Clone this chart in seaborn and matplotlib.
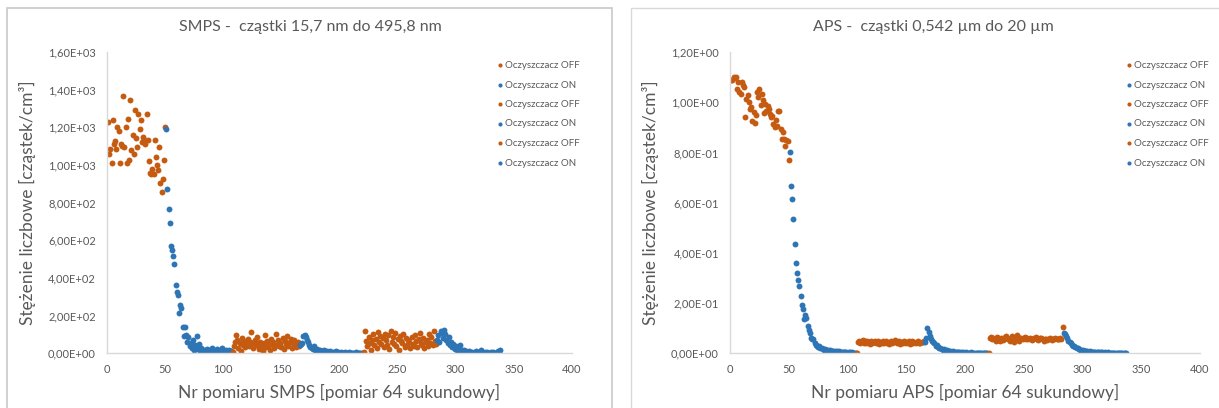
import matplotlib
matplotlib.use("Agg")
import matplotlib.pyplot as plt
from matplotlib.patches import Rectangle
from matplotlib.ticker import FuncFormatter, MultipleLocator
import pandas as pd
import seaborn as sns

# SMPS: number concentration per measurement (64 s each), six phases of the purifier
smps_off1 = [1229, 1057, 1087, 1008, 1241, 1110, 1126, 1087, 1202, 1179, 1008, 1110, 1100, 1365, 1096,
             1202, 1008, 1245, 1025, 1343, 1078, 1158, 1057, 1294, 1142, 1096, 1273, 1193, 1238, 1120,
             1149, 1131, 1114, 1273, 1131, 1022, 960, 951, 981, 951, 1131, 1043, 1000, 972, 1096,
             905, 857, 928, 1025, 1202]
smps_on1 = [1190, 870, 764, 693, 571, 548, 516, 472, 362, 325, 308, 212, 256, 239, 141, 92, 138, 95, 60,
            85, 40, 55, 30, 70, 20, 45, 90, 25, 50, 10, 30, 5, 15, 20, 8, 25, 10, 5, 15, 30, 10, 20, 5,
            12, 25, 8, 15, 3, 30, 10, 5, 20, 8, 2, 15, 5, 10]
smps_off2 = [5, 40, 60, 95, 70, 30, 55, 10, 80, 45, 65, 35, 50, 75, 40, 60, 115, 55, 30, 70, 45, 85, 50,
             25, 60, 40, 10, 55, 95, 35, 65, 45, 20, 75, 50, 60, 30, 100, 45, 70, 40, 55, 35, 80, 25, 65,
             50, 90, 40, 60, 75, 30, 55, 70, 45, 35, 60, 40]
smps_on2 = [45, 50, 55, 90, 95, 85, 70, 60, 45, 35, 30, 25, 40, 20, 15, 25, 10, 18, 8, 12, 5, 15, 3, 10,
            6, 2, 12, 4, 8, 1, 5, 10, 2, 6, 3, 8, 1, 4, 2, 6, 1, 3, 5, 2, 4, 1, 3, 2, 5, 1, 2, 3, 1, 2, 4]
smps_off3 = [5, 120, 65, 40, 85, 55, 20, 70, 100, 45, 75, 30, 115, 60, 90, 50, 80, 35, 105, 70, 45, 95,
             25, 120, 60, 85, 50, 110, 40, 75, 15, 90, 65, 55, 100, 35, 80, 45, 70, 60, 30, 85, 50, 40,
             95, 65, 35, 75, 110, 55, 45, 80, 30, 60, 70, 40, 100, 55, 85, 45, 120, 65, 50]
smps_on3 = [70, 95, 60, 120, 110, 80, 125, 100, 70, 55, 85, 45, 60, 35, 50, 25, 40, 15, 30, 10, 45, 20,
            8, 15, 5, 10, 3, 12, 6, 2, 8, 4, 1, 10, 5, 2, 7, 3, 15, 4, 1, 6, 2, 9, 3, 1, 5, 2, 8, 4, 1,
            3, 10, 6, 20]

# APS
aps_off1 = [1.09, 1.087, 1.10, 1.095, 1.10, 1.053, 1.082, 1.04, 1.033, 1.08, 1.07, 1.06, 0.94, 1.013,
            1.027, 1.00, 0.973, 0.98, 0.927, 0.96, 0.917, 0.95, 1.04, 1.02, 1.053, 0.987, 1.033, 1.007,
            0.957, 0.993, 0.967, 0.985, 0.973, 0.953, 0.94, 0.947, 0.913, 0.90, 0.93, 0.904, 0.967,
            0.967, 0.893, 0.853, 0.88, 0.853, 0.824, 0.85, 0.845, 0.77]
aps_on1 = [0.80, 0.667, 0.616, 0.533, 0.437, 0.36, 0.32, 0.29, 0.267, 0.227, 0.193, 0.176, 0.136, 0.153,
           0.14, 0.109, 0.093, 0.08, 0.06, 0.055, 0.058, 0.04, 0.033, 0.03, 0.025, 0.028, 0.02, 0.022,
           0.018, 0.015, 0.017, 0.012, 0.014, 0.01, 0.012, 0.009, 0.011, 0.008, 0.01, 0.007, 0.009,
           0.006, 0.008, 0.005, 0.007, 0.006, 0.004, 0.006, 0.005, 0.003, 0.005, 0.004, 0.003, 0.004,
           0.002, 0.003, 0.002]
aps_off2 = [0.0, 0.045, 0.05, 0.04, 0.048, 0.052, 0.043, 0.047, 0.04, 0.05, 0.045, 0.038, 0.048, 0.042,
            0.046, 0.05, 0.041, 0.044, 0.049, 0.038, 0.045, 0.042, 0.047, 0.04, 0.044, 0.048, 0.043,
            0.039, 0.046, 0.05, 0.042, 0.045, 0.052, 0.047, 0.04, 0.044, 0.048, 0.038, 0.045, 0.042,
            0.05, 0.046, 0.041, 0.044, 0.048, 0.039, 0.043, 0.047, 0.042, 0.045, 0.04, 0.046, 0.049,
            0.043, 0.041, 0.045, 0.044, 0.048]
aps_on2 = [0.045, 0.06, 0.10, 0.085, 0.07, 0.055, 0.05, 0.045, 0.04, 0.03, 0.035, 0.025, 0.02, 0.022,
           0.018, 0.015, 0.017, 0.012, 0.01, 0.012, 0.008, 0.01, 0.007, 0.006, 0.008, 0.005, 0.006,
           0.004, 0.005, 0.006, 0.003, 0.004, 0.005, 0.003, 0.002, 0.004, 0.003, 0.002, 0.003, 0.004,
           0.002, 0.001, 0.003, 0.002, 0.001, 0.002, 0.003, 0.001, 0.002, 0.001, 0.002, 0.001, 0.001,
           0.002]
aps_off3 = [0.0, 0.06, 0.065, 0.055, 0.062, 0.058, 0.05, 0.065, 0.06, 0.055, 0.048, 0.06, 0.052, 0.058,
            0.065, 0.07, 0.06, 0.055, 0.05, 0.062, 0.068, 0.058, 0.045, 0.06, 0.072, 0.065, 0.05, 0.058,
            0.062, 0.055, 0.06, 0.065, 0.058, 0.062, 0.055, 0.06, 0.058, 0.052, 0.056, 0.06, 0.063,
            0.058, 0.054, 0.057, 0.06, 0.062, 0.055, 0.05, 0.058, 0.056, 0.052, 0.055, 0.06, 0.058,
            0.054, 0.057, 0.055, 0.06, 0.056, 0.058, 0.055, 0.06, 0.057, 0.105]
aps_on3 = [0.08, 0.075, 0.068, 0.06, 0.05, 0.045, 0.04, 0.035, 0.03, 0.028, 0.025, 0.022, 0.02, 0.018,
           0.015, 0.014, 0.012, 0.01, 0.011, 0.009, 0.008, 0.007, 0.008, 0.006, 0.007, 0.005, 0.006,
           0.004, 0.005, 0.006, 0.004, 0.003, 0.005, 0.004, 0.003, 0.004, 0.002, 0.003, 0.004, 0.002,
           0.003, 0.002, 0.001, 0.003, 0.002, 0.001, 0.002, 0.001, 0.002, 0.001, 0.001, 0.002, 0.001,
           0.0]

phase_labels = ['Oczyszczacz OFF', 'Oczyszczacz ON'] * 3
ORANGE = '#C55A11'
BLUE = '#2E75B6'
phase_colors = [ORANGE, BLUE] * 3
GREY = '#595959'


def to_frame(segments):
    rows = []
    n = 1
    for i, seg in enumerate(segments):
        for v in seg:
            rows.append({'nr': n, 'value': v, 'phase': i})
            n += 1
    return pd.DataFrame(rows)


def sci_comma(v, pos):
    return f"{v:.2E}".replace('.', ',')


sns.set_style('white')
plt.rcParams['font.family'] = ['Lato', 'DejaVu Sans']

W, H = 1219, 408
fig = plt.figure(figsize=(W / 100, H / 100), dpi=100)

# chart boxes like in the spreadsheet
fig.add_artist(Rectangle((7 / W, -0.1), (612 - 7) / W, 1.1 - 8 / H, transform=fig.transFigure,
                         fill=False, edgecolor='#C8C8C8', lw=1.2))
fig.add_artist(Rectangle((631 / W, -0.1), 1.0, 1.1 - 8 / H, transform=fig.transFigure,
                         fill=False, edgecolor='#D9D9D9', lw=1))

panels = [
    dict(segs=[smps_off1, smps_on1, smps_off2, smps_on2, smps_off3, smps_on3],
         left=107, width=465, ymax=1600, ystep=200, legx=496, titlex=310, ylabx=27,
         title='SMPS -  cząstki 15,7 nm do 495,8 nm',
         xlabel='Nr pomiaru SMPS [pomiar 64 sukundowy]'),
    dict(segs=[aps_off1, aps_on1, aps_off2, aps_on2, aps_off3, aps_on3],
         left=730, width=470, ymax=1.2, ystep=0.2, legx=1125, titlex=933, ylabx=650,
         title='APS -  cząstki 0,542 µm do 20 µm',
         xlabel='Nr pomiaru APS [pomiar 64 sukundowy]'),
]

bottom_px, top_px = 353.3, 52
for p in panels:
    ax = fig.add_axes([p['left'] / W, 1 - bottom_px / H, p['width'] / W, (bottom_px - top_px) / H])
    df = to_frame(p['segs'])
    for i in range(6):
        sub = df[df['phase'] == i]
        sns.scatterplot(data=sub, x='nr', y='value', color=phase_colors[i], label=phase_labels[i],
                        s=18, linewidth=0, ax=ax)
    ax.set_xlim(0, 400)
    ax.set_ylim(0, p['ymax'])
    ax.xaxis.set_major_locator(MultipleLocator(50))
    ax.yaxis.set_major_locator(MultipleLocator(p['ystep']))
    ax.yaxis.set_major_formatter(FuncFormatter(sci_comma))
    ax.tick_params(length=0, labelsize=8, labelcolor=GREY, pad=8)
    for side in ['top', 'right']:
        ax.spines[side].set_visible(False)
    for side in ['left', 'bottom']:
        ax.spines[side].set_color('#D9D9D9')
        ax.spines[side].set_linewidth(1)
    ax.set_xlabel(p['xlabel'], fontsize=12.5, color=GREY, va='center')
    ax.xaxis.set_label_coords(0.5, -(392 - bottom_px) / (bottom_px - top_px))
    ax.set_ylabel('Stężenie liczbowe [cząstek/cm³]', fontsize=12.5, color=GREY, va='center')
    ax.yaxis.set_label_coords(-(p['left'] - p['ylabx']) / p['width'], 0.5)
    fig.text(p['titlex'] / W, 1 - 27 / H, p['title'], ha='center', va='center', fontsize=11.5,
             color=GREY)
    leg = ax.legend(loc='upper left', bbox_to_anchor=(p['legx'] / W, 1 - 61 / H),
                    bbox_transform=fig.transFigure, frameon=False, fontsize=7, labelspacing=1.08,
                    handletextpad=0.15, handlelength=0.8, borderpad=0, borderaxespad=0,
                    markerscale=0.7)
    for t in leg.get_texts():
        t.set_color(GREY)

fig.savefig('out.png', dpi=100)
